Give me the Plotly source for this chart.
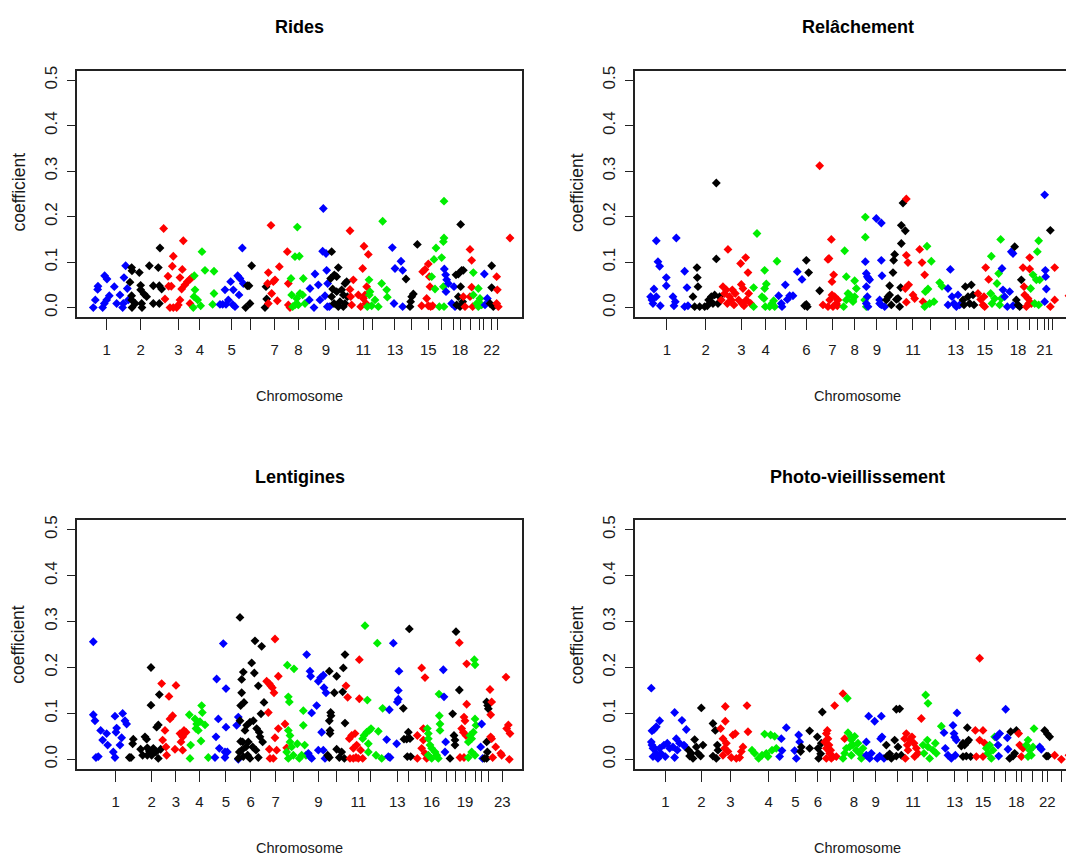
import plotly.graph_objects as go

# ---------------- data ----------------
# x = position along the genome (arbitrary plot units), y = coefficient
# each inner list = one chromosome (1..23)
PALETTE = ["#0000FF", "#000000", "#FF0000", "#00EE00"]
Y_TICKS = [0.0, 0.1, 0.2, 0.3, 0.4, 0.5]
Y_TICK_TEXT = ["0.0", "0.1", "0.2", "0.3", "0.4", "0.5"]
CHROMS = [str(i) for i in range(1, 24)]

RIDES_POS = [
    [70,76,83,84,98,103,104,111,110,118,133,140,150,158,160,162,167,172,175],
    [185,186,180,185,185,186,196,208,212,212,216,222,230,238,250,250,265,270,268,275,268,215],
    [281,285,294,296,304,310,307,300,310,320,325,330,330,337,340,335,345,352,360,365,360],
    [370,372,375,373,383,392,396,405,432,432,428],
    [450,458,465,468,475,482,488,490,495,503,510,517,520,507],
    [527,532,537,540,545,585,590,588],
    [593,595,603,605,610,615,595,622,628,652,655,655,660],
    [663,665,668,675,682,688,680,690,698,700,705,675,685],
    [718,720,732,735,745,750,760,758,768,770,765,772,778,773],
    [785,782,788,793,800,805,800,805,810,815,820,825,830,825,792,785,820,832],
    [840,840,842,845,850,865,872,878,882,885,890,895,888,880],
    [892,897,900,905,915,925,935,938,950,952,898],
    [967,972,975,993,998,998],
    [1008,1020,1022,1025,1030,1042],
    [1055,1058,1065,1070,1075,1078,1080,1082,1088,1075],
    [1085,1092,1095,1098,1108,1115,1120,1122,1122,1122,1120],
    [1123,1127,1130,1128,1135,1145,1152,1155],
    [1158,1165,1172,1175,1180,1165,1170,1172,1178,1160],
    [1180,1185,1200,1205,1205,1200,1208],
    [1210,1210,1225,1230,1225,1235,1220],
    [1243,1245,1252],
    [1265,1265,1260,1270],
    [1280,1282,1280,1285,1320],
]
RIDES_COEF = [
    [0,.017,.040,.047,0,.009,.070,.063,.017,.026,.046,.009,.028,0,.009,.066,.092,.042,.017],
    [.088,.081,.056,.026,.017,0,.009,.077,.049,.039,0,.030,.024,.092,.048,.009,.088,.131,.048,.041,.009,.009],
    [.174,.019,.069,.047,.047,.113,.091,0,0,0,.006,.017,.066,.084,.147,.041,.050,.057,.062,.066,.009],
    [0,.024,.039,.070,.017,.004,.123,.082,.080,.031,.007],
    [.007,.007,.039,.007,.017,.057,.007,.039,.002,.070,.064,.131,.053,.028],
    [0,.048,.048,.009,.092,0,.019,.046],
    [.053,.077,.181,.031,.057,.061,.009,.015,.090,.123,.053,.006,0],
    [.064,.028,.002,.112,.177,.113,.020,.031,.028,.064,.009,.006,.006],
    [.017,.042,0,.074,.050,.017,.218,.124,.119,.082,.026,.002,.002,.053],
    [.123,.064,.041,.072,.068,.088,.035,.002,.013,.039,.028,.053,.057,.009,.009,.024,.002,.024],
    [.169,.040,.024,.006,.061,.028,.002,.086,.135,.028,.046,.117,.009,.020],
    [.002,.061,.035,.004,.017,.002,.053,.190,.039,.023,.028],
    [.132,.009,.086,.102,.082,.002],
    [.063,.002,.013,.024,.030,.139],
    [.004,.079,.084,.020,.096,.068,.046,.002,.004,.004],
    [.068,.106,.041,.131,.002,.110,.145,.153,.234,.002,.046],
    [.085,.072,.061,.035,.053,.009,.046,.002],
    [.072,.074,.183,.082,.082,.024,.002,.046,.013,.006],
    [.024,.002,.128,.104,.045,.024,.002],
    [.077,.028,.042,.020,.002,.006,.009],
    [.074,.006,.020],
    [.092,.044,.009,.002],
    [.068,.039,.009,.002,.153],
]
RIDES_TICKS = [110,212,325,390,485,542,614,685,768,805,880,908,975,1025,1075,1115,1150,1170,1202,1227,1240,1265,1282]
RIDES_LABELLED = ["1","2","3","4","5","7","8","9","11","13","15","18","22"]

RELACH_POS = [
    [68,72,75,78,85,85,90,95,97,115,115,135,138,142,145,170,170,177,180],
    [195,200,207,208,210,215,230,238,242,250,255,260,265,265,270,275],
    [280,285,290,295,300,298,305,310,313,318,322,332,338,340,342,348,353,355,360,362,368,345],
    [377,377,387,402,408,410,410,415,412,425,432,437,440,447],
    [452,460,462,472,478,485,495,508,522],
    [530,535,535,542,538,575],
    [575,585,600,603,610,612,617,605,612,615,620,628,630,625,600],
    [647,650,655,655,660,665,675,675,680,685,680,712,712,710,715],
    [712,715,718,722,715,718,715,720,725,745,760,760,762,755,760,770,755],
    [775,780,785,790,795,797,800,810,815,818,820,820,825,832,785,805],
    [835,835,840,832,842,835,855,860,875,882,890,885],
    [897,910,892,900,890,905,918,935,942],
    [960,967,960,972,978,985,990,995],
    [1005,1008,1012,1020,1025,1030,1035,1038],
    [1050,1058,1065,1068,1073,1082,1070],
    [1088,1090,1092,1100,1107,1112,1115,1118,1120],
    [1122,1125,1130,1138,1145,1150,1155,1155],
    [1160,1165,1170,1175,1180],
    [1185,1188,1190,1195,1200,1205,1205,1202,1210],
    [1208,1215,1220,1225,1228,1232,1235,1232],
    [1250,1252,1253,1255,1250],
    [1267],
    [1267,1280,1280,1323],
]
RELACH_COEF = [
    [.024,.017,.009,.041,.147,.024,.101,.091,.004,.066,.048,.024,.004,.013,.153,.080,.002,.044,.004],
    [.024,.002,.088,.066,.046,.002,.002,.004,.017,.024,.009,.028,.274,.107,.009,.024],
    [.017,.046,.031,.039,.128,.009,.024,.017,.039,.006,.031,.017,.097,.051,.009,.004,.110,.017,.077,.031,.009,.042],
    [.044,.002,.163,.024,.020,.042,.082,.052,.002,.002,.009,.015,.002,.102],
    [.026,.009,.002,.050,.018,.026,.026,.079,.062],
    [.004,.007,.104,.077,.002,.037],
    [.312,.006,.106,.108,.150,.057,.072,.017,.028,.002,.024,.004,.017,.009,.002],
    [.002,.125,.068,.017,.031,.028,.013,.017,.059,.042,.024,.199,.155,.017,.002],
    [.101,.075,.068,.064,.046,.024,.009,.002,.061,.196,.186,.104,.070,.017,.006,.002,.009],
    [.017,.024,.048,.006,.077,.104,.117,.020,.002,.044,.141,.181,.230,.169,.028,.018],
    [.239,.115,.099,.042,.050,.012,.028,.020,.128,.099,.072,.013],
    [.135,.102,.035,.041,.002,.009,.013,.055,.047],
    [.042,.084,.006,.024,.009,.002,.028,.006],
    [.017,.006,.046,.024,.009,.050,.028,.006],
    [.031,.018,.006,.024,.088,.062,.002],
    [.031,.113,.009,.020,.053,.075,.006,.150,.020],
    [.086,.039,.024,.002,.035,.123,.119,.004],
    [.134,.017,.006,.002,.061],
    [.088,.046,.028,.002,.020,.110,.085,.009,.009],
    [.042,.072,.009,.061,.123,.147,.061,.006],
    [.248,.082,.068,.041,.013],
    [.170],
    [.002,.088,.017,.026],
]
RELACH_TICKS = [117,233,340,413,473,535,613,680,747,805,855,907,983,1022,1070,1108,1143,1170,1205,1230,1250,1263,1273]
RELACH_LABELLED = ["1","2","3","4","6","7","8","9","11","13","15","18","21"]

LENTIG_POS = [
    [70,70,75,78,85,92,98,110,113,130,135,138,140,135,150,155,158,165,170],
    [178,183,190,188,212,218,225,230,232,238,243,243,250,258,260,265,265,268,272,245,232],
    [275,278,285,288,290,297,300,308,315,318,330,333,338,342,348,338],
    [358,362,360,375,378,380,385,393,395,397,405,415,390],
    [435,438,440,445,448,460,465,465,468,468,472,500,505,505],
    [510,510,512,515,515,518,520,522,508,505,515,520,525,530,528,533,540,540,545,550,553,555,558,560,565,565,568,570,573,575,578,582,548,535,512],
    [590,595,598,602,607,612,615,620,625,615,598,600,610,625,645,650],
    [652,672,655,658,655,660,650,660,655,665,670,682,688,695,700,700,704,708],
    [710,720,722,715,720,725,725,740,745,752,760,762,768,755,760,745,765],
    [773,778,780,778,783,782,778,793,800,800,808,815,820,818,823,825,825,780],
    [828,833,838,845,840,850,855,860,865,868,868,872,878,858,850],
    [878,882,885,890,892,895,898,903,895,922,925,918,938,935],
    [950,955,960,958,970,980,982,985,985,987],
    [1000,1002,1010,1015,1018,1020,1012,1022],
    [1042,1042,1055,1060,1055,1060,1065,1065,1070],
    [1072,1075,1075,1080,1085,1075,1085,1100,1095,1107,1108,1110,1110,1105],
    [1120,1122,1127,1125],
    [1140,1148,1152,1155,1158,1168,1155],
    [1168,1170,1175,1180,1182,1185,1188,1190,1190,1182],
    [1195,1200,1205,1210,1213,1215,1215,1218,1195,1205,1215],
    [1235,1232,1238],
    [1250,1253,1255,1250,1252,1250,1243],
    [1260,1265,1262,1265,1268,1277,1292,1295,1308,1310,1315,1320,1318,1262],
]
LENTIG_COEF = [
    [.256,.097,.084,.004,.006,.063,.042,.056,.031,.016,.094,.059,.068,.004,.031,.047,.100,.084,.077],
    [.004,.004,.044,.034,.022,.009,.049,.044,.025,.018,.200,.118,.024,.016,.070,.075,.002,.141,.022,.009,.009],
    [.165,.042,.063,.027,.009,.137,.088,.095,.022,.161,.056,.038,.020,.063,.059,.049],
    [.097,.031,.002,.088,.067,.077,.063,.040,.117,.102,.075,.004,.082],
    [.004,.049,.175,.088,.024,.252,.016,.004,.070,.154,.016,.074,.092,0],
    [.309,.084,.117,.145,.174,.038,.190,.124,.016,.002,.020,.006,.063,.074,.027,.009,.002,.081,.210,.084,.188,.258,.020,.067,.160,.004,.059,.049,.099,.246,.038,.124,.027,.038,.039],
    [.170,.102,.165,.160,.156,.145,.262,.020,.067,.047,.022,.002,.002,.181,.077,.025],
    [.205,.197,.136,.125,.063,.052,.016,.038,.002,.027,.009,.034,.002,.009,.106,.074,.031,.009],
    [.228,.192,.181,.013,.006,.002,.101,.117,.170,.178,.183,.156,.145,.059,.020,.020,.002],
    [.009,.004,.063,.084,.095,.102,.192,.145,.181,.022,.004,.016,.199,.147,.002,.228,.079,.056],
    [.160,.135,.045,.052,.002,.024,.056,.031,.002,.217,.132,.020,.002,.004,.002],
    [.045,.052,.291,.059,.129,.034,.063,.067,.016,.253,.061,.009,.111,.002],
    [.043,.006,.004,.108,.253,.034,.125,.131,.150,.192],
    [.111,.044,.044,.059,.284,.045,.006,.006],
    [.052,.002,.199,.067,.024,.042,.178,.013,.002],
    [.067,.056,.045,.031,.024,.009,.002,.009,.016,.142,.095,.077,.063,.002],
    [.195,.136,.038,.016],
    [.002,.099,.052,.042,.278,.151,.031],
    [.254,.004,.067,.059,.092,.084,.052,.120,.208,.004],
    [.038,.052,.045,.059,.217,.206,.088,.074,.004,.016,.009],
    [.077,.027,.002],
    [.125,.117,.110,.038,.016,.002,.002],
    [.152,.125,.049,.045,.004,.027,.013,.009,.179,.067,.075,.056,0,.097],
]
LENTIG_TICKS = [137,245,318,388,468,542,617,672,745,800,865,903,982,1015,1065,1085,1130,1155,1185,1215,1235,1255,1297]
LENTIG_LABELLED = ["1","2","3","4","5","6","7","9","11","13","16","19","23"]

PHOTO_POS = [
    [70,72,78,85,95,70,72,75,80,85,90,95,100,108,112,118,125,135,140,145,140,148,155,162,168,175,172,75],
    [182,185,190,195,200,205,210,220,225,218,255,262,255,268,270,265],
    [278,285,290,292,292,295,300,310,315,322,325,335,340,345,357,360,285],
    [372,380,392,402,410,415,428,432,440,445,420],
    [455,460,462,475,500,505,512,515],
    [520,518,545,545,568,570,572,578,583,580],
    [590,595,598,600,595,603,605,610,615,620,625,645,650,595,608],
    [645,650,655,658,660,665,670,670,675,680,685,695,700,705,690,670],
    [715,715,722,725,730,740,748,760,758,762,755,768],
    [775,778,785,800,805,815,810,805,820,790],
    [830,835,838,840,832,845,852,858,865,870,880,860],
    [885,888,893,900,898,900,905,915,922,925,940],
    [948,952,960,970,975,978,980,985,987,982],
    [1000,1005,1010,1018,1018,1022,1005,1028,1015],
    [1042,1045,1055,1055,1065,1070,1065],
    [1075,1080,1085,1090,1100,1095],
    [1105,1110,1115,1112,1133,1138,1140],
    [1145,1148,1155,1160,1165],
    [1172,1175,1180,1185],
    [1195,1200,1205,1210,1218,1215,1200],
    [1235,1240],
    [1250,1258,1265,1255,1260],
    [1280,1300,1323],
]
PHOTO_COEF = [
    [.155,.062,.065,.071,.084,.038,.031,.006,.024,.013,.002,.024,.012,.031,.006,.035,.024,.027,.102,.045,.004,.020,.035,.085,.031,.065,.027,.024],
    [.020,.007,.013,.002,.043,.027,.013,.112,.031,.007,.078,.063,.007,.031,.020,.002],
    [.067,.045,.024,.115,.083,.035,.017,.004,.053,.056,.002,.004,.017,.027,.117,.060,.009],
    [.020,.013,.002,.009,.055,.013,.053,.020,.050,.024,.006],
    [.006,.045,.019,.069,.019,.002,.053,.038],
    [.027,.017,.062,.024,.049,.024,.002,.012,.103,.035],
    [.038,.056,.063,.045,.024,.031,.013,.002,.006,.117,.006,.143,.045,.002,.020],
    [.002,.013,.024,.133,.058,.027,.049,.042,.031,.050,.020,.013,.002,.024,.035,.009],
    [.038,.009,.094,.002,.013,.083,.002,.094,.045,.049,.007,.002],
    [.031,.007,.012,.042,.109,.110,.027,.007,.009,.002],
    [.045,.056,.031,.020,.002,.042,.049,.035,.024,.013,.089,.006],
    [.031,.013,.140,.122,.042,.027,.002,.020,.035,.013,.072],
    [.058,.024,.009,.002,.074,.056,.048,.042,.101,.009],
    [.029,.035,.031,.069,.038,.042,.006,.006,.007],
    [.063,.006,.220,.042,.063,.035,.006],
    [.024,.013,.031,.002,.049,.020],
    [.048,.031,.056,.007,.109,.047,.022],
    [.002,.060,.007,.013,.063],
    [.056,.031,.006,.024],
    [.031,.042,.020,.009,.067,.027,.006],
    [.027,.022],
    [.063,.055,.049,.007,.007],
    [.009,0,.009],
]
PHOTO_TICKS = [112,220,307,422,502,570,608,678,743,810,855,898,980,1018,1065,1100,1132,1165,1180,1213,1243,1258,1302]
PHOTO_LABELLED = ["1","2","3","4","5","6","8","9","11","13","15","18","22"]

PANELS = [
    ("Rides", RIDES_POS, RIDES_COEF, RIDES_TICKS, RIDES_LABELLED),
    ("Relâchement", RELACH_POS, RELACH_COEF, RELACH_TICKS, RELACH_LABELLED),
    ("Lentigines", LENTIG_POS, LENTIG_COEF, LENTIG_TICKS, LENTIG_LABELLED),
    ("Photo-vieillissement", PHOTO_POS, PHOTO_COEF, PHOTO_TICKS, PHOTO_LABELLED),
]

# ---------------- layout geometry ----------------
# figure sits inside the page body (8 px default margin), so it is 8 px smaller
W, H = 1066, 849
XDOM = [[0.06501, 0.48218], [0.58846, 1.0], [0.06501, 0.48218], [0.58846, 1.0]]
YDOM = [[0.64016, 0.93110], [0.64016, 0.93110], [0.10483, 0.39870], [0.10483, 0.39870]]
XRANGE = [[22, 1356], [22, 1338], [22, 1356], [22, 1338]]
TITLE_X = [0.27359, 0.79704, 0.27359, 0.79704]
TITLE_Y = [0.98351, 0.98351, 0.44994, 0.44994]
XLAB_Y = [0.54653, 0.54653, 0.01060, 0.01060]
YLAB_X = [0.00985, 0.53377, 0.00985, 0.53377]
YLAB_Y = [0.78799, 0.78799, 0.25206, 0.25206]

SANS = "Liberation Sans, Arial, sans-serif"
AXCOL = "#222222"

fig = go.Figure()
annotations = []
for i, (title, pos, coef, ticks, labelled) in enumerate(PANELS):
    k = "" if i == 0 else str(i + 1)
    for c, (xs, ys) in enumerate(zip(pos, coef)):
        fig.add_trace(go.Scatter(
            x=xs, y=ys, mode="markers", xaxis="x" + k, yaxis="y" + k,
            marker=dict(symbol="diamond", size=6.8, color=PALETTE[c % 4], line=dict(width=0)),
            showlegend=False, hoverinfo="skip"))
    ticktext = [lab if lab in labelled else "" for lab in CHROMS]
    right = i % 2 == 1
    fig.layout["xaxis" + k] = dict(
        domain=XDOM[i], anchor="y" + k, range=XRANGE[i],
        tickmode="array", tickvals=ticks, ticktext=ticktext,
        ticks="outside", ticklen=12, tickwidth=1, tickcolor=AXCOL,
        showline=True, linecolor=AXCOL, linewidth=1.5, mirror=True,
        showgrid=False, zeroline=False, ticklabelstandoff=7,
        tickfont=dict(family=SANS, size=15, color="#1a1a1a"))
    fig.layout["yaxis" + k] = dict(
        domain=YDOM[i], anchor="x" + k, range=[-0.02, 0.52],
        tickmode="array", tickvals=Y_TICKS, ticktext=Y_TICK_TEXT, tickangle=-90,
        ticks="outside", ticklen=9, tickwidth=1, tickcolor=AXCOL,
        showline=True, linecolor=AXCOL, linewidth=1.5, mirror=(not right),
        showgrid=False, zeroline=False, ticklabelstandoff=3,
        tickfont=dict(family=SANS, size=17, color="#1a1a1a"))
    annotations.append(dict(text="<b>" + title + "</b>", x=TITLE_X[i], y=TITLE_Y[i],
                            xanchor="center", yanchor="middle",
                            xref="paper", yref="paper", showarrow=False,
                            font=dict(family=SANS, size=18, color="#000000")))
    annotations.append(dict(text="Chromosome", x=TITLE_X[i], y=XLAB_Y[i],
                            xanchor="center", yanchor="middle",
                            xref="paper", yref="paper", showarrow=False,
                            font=dict(family=SANS, size=14.5, color="#1a1a1a")))
    annotations.append(dict(text="coefficient", x=YLAB_X[i], y=YLAB_Y[i], textangle=-90,
                            xanchor="center", yanchor="middle",
                            xref="paper", yref="paper", showarrow=False,
                            font=dict(family=SANS, size=17.5, color="#1a1a1a")))

fig.update_layout(width=W, height=H, margin=dict(l=0, r=0, t=0, b=0),
                  paper_bgcolor="white", plot_bgcolor="white",
                  annotations=annotations)

fig.write_html("out.html", config={"displayModeBar": False})
